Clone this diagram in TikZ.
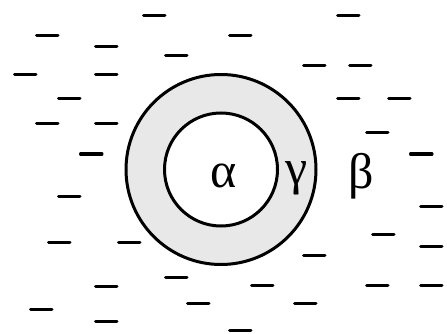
\documentclass[tikz,border=0pt]{standalone}
\usepackage{fontspec}
\setmainfont{Liberation Serif}
\begin{document}
\begin{tikzpicture}[x=1pt,y=-1pt,
  dashmark/.style={line width=3pt,line cap=round},
  ring/.style={line width=3pt},
  greek/.style={font=\fontsize{50}{50}\selectfont,inner sep=0pt}]
\useasboundingbox (0,0) rectangle (447,334);
\fill[gray!18,even odd rule] (221,169.5) circle[radius=95] (221,169.5) circle[radius=56.5];
\draw[ring] (221,169.5) circle[radius=95];
\draw[ring] (221,169.5) circle[radius=56.5];
\node[greek] (alpha) at (224,176) {α};
\node[greek] (gamma) at (297,178) {γ};
\node[greek] (beta) at (361,176) {β};
\foreach \xa/\yy in {
 142/16, 35/36, 94/47, 164/56, 13/75, 94/75, 57/99, 35/124, 94/124, 79/154,
 336/16, 228/36, 302/66, 348/66, 336/99, 387/99, 365/133, 409/154,
 57/196, 47/242, 117/242, 164/277, 94/286, 186/303, 29/309, 94/321,
 419/206, 371/234, 419/246, 302/255, 250/285, 365/285, 419/285, 293/303, 228/330}
 \draw[dashmark] (\xa+1.5,\yy) -- ++(21.5,0);
\end{tikzpicture}
\end{document}
